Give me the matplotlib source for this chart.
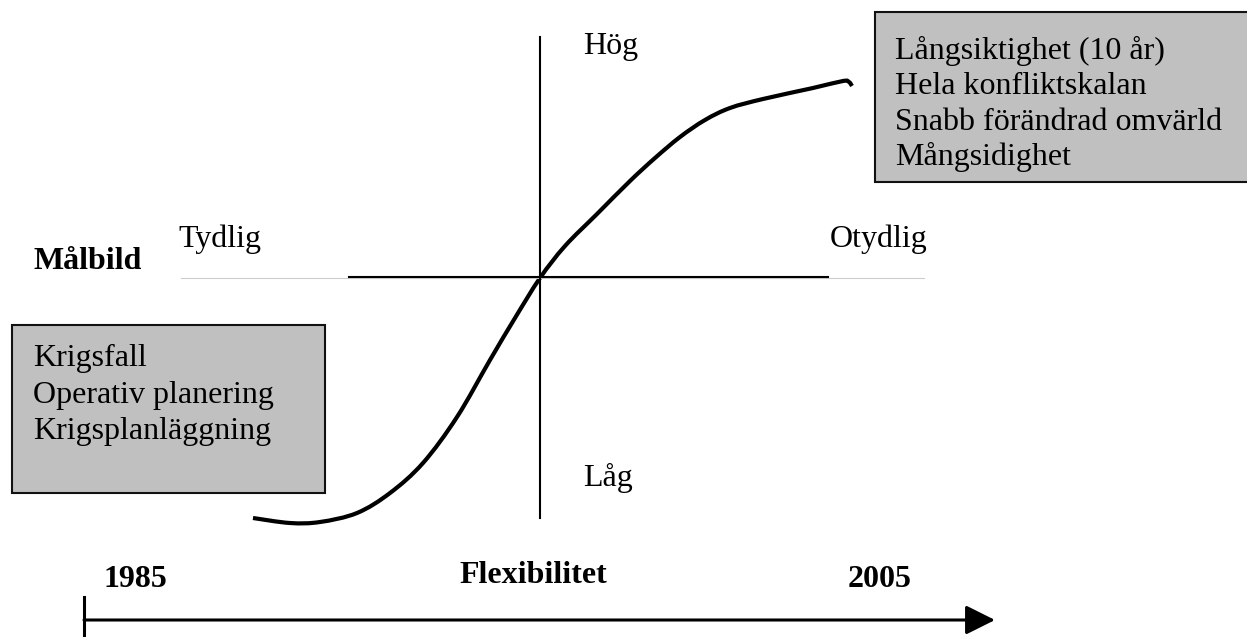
import matplotlib
matplotlib.use("Agg")
import matplotlib.pyplot as plt
from matplotlib.patches import Rectangle, PathPatch
from matplotlib.path import Path

plt.rcParams['font.family'] = ['Liberation Serif', 'DejaVu Serif']

# S-curve (pixel coords, y down)
curve_x = [253, 290, 320, 357, 390, 423, 457, 490, 515, 540, 565, 597, 630, 655,
           680, 705, 730, 763, 813, 843, 849, 852]
curve_y = [518, 523, 522, 513, 493, 463, 417, 360, 318, 278, 246, 214, 181, 158,
           137, 120, 108, 99, 88, 81, 82, 86]

left_items = ["Krigsfall", "Operativ planering", "Krigsplanläggning"]
right_items = ["Långsiktighet (10 år)", "Hela konfliktskalan",
               "Snabb förändrad omvärld", "Mångsidighet"]
axis_top, axis_bottom = "Hög", "Låg"
axis_left, axis_right = "Tydlig", "Otydlig"
row_label = "Målbild"
time_label = "Flexibilitet"
year_start, year_end = "1985", "2005"


def smooth_path(xs, ys):
    # catmull-rom through the points, drawn as cubic beziers
    pts = list(zip(xs, ys))
    verts = [pts[0]]
    codes = [Path.MOVETO]
    n = len(pts)
    for i in range(n - 1):
        p0 = pts[max(i - 1, 0)]
        p1 = pts[i]
        p2 = pts[i + 1]
        p3 = pts[min(i + 2, n - 1)]
        c1 = (p1[0] + (p2[0] - p0[0]) / 6, p1[1] + (p2[1] - p0[1]) / 6)
        c2 = (p2[0] - (p3[0] - p1[0]) / 6, p2[1] - (p3[1] - p1[1]) / 6)
        verts += [c1, c2, p2]
        codes += [Path.CURVE4] * 3
    return Path(verts, codes)


fig = plt.figure(figsize=(12.47, 6.37), dpi=100)
ax = fig.add_axes([0, 0, 1, 1])
ax.set_xlim(0, 1247)
ax.set_ylim(637, 0)
ax.axis('off')

fs = 23

# quadrant axes
ax.plot([181, 924], [278, 278], color='#cccccc', lw=0.8)
ax.plot([349, 828], [277, 277], color='black', lw=1.5)
ax.plot([540, 540], [37, 518], color='black', lw=1.5)

# curve
ax.add_patch(PathPatch(smooth_path(curve_x, curve_y), facecolor='none',
                       edgecolor='black', lw=3, capstyle='butt'))

# boxes
ax.add_patch(Rectangle((12, 325), 313, 168, facecolor='#c0c0c0', edgecolor='#111111', lw=1.5))
ax.add_patch(Rectangle((875, 12), 380, 170, facecolor='#c0c0c0', edgecolor='#111111', lw=1.5))
for i, t in enumerate(left_items):
    ax.text(33, 366 + i * 36.5, t, fontsize=fs, va='baseline', ha='left')
for i, t in enumerate(right_items):
    ax.text(895, 59 + i * 35.5, t, fontsize=fs, va='baseline', ha='left')

# labels
ax.text(583, 54, axis_top, fontsize=fs, va='baseline')
ax.text(583, 486, axis_bottom, fontsize=fs, va='baseline')
ax.text(178, 247, axis_left, fontsize=fs, va='baseline')
ax.text(830, 247, axis_right, fontsize=fs, va='baseline')
ax.text(33, 269, row_label, fontsize=fs, fontweight='bold', va='baseline')

# timeline
ax.text(533, 583, time_label, fontsize=fs, fontweight='bold', va='baseline', ha='center')
ax.text(103, 587, year_start, fontsize=fs, fontweight='bold', va='baseline')
ax.text(848, 587, year_end, fontsize=fs, fontweight='bold', va='baseline')
ax.plot([84, 84], [597, 637], color='black', lw=2.2)
ax.annotate('', xy=(995, 620), xytext=(84, 620),
            arrowprops=dict(arrowstyle='-|>,head_length=1.0,head_width=0.5',
                            mutation_scale=18, lw=2.2, color='black',
                            shrinkA=0, shrinkB=0))

fig.savefig('out.png', dpi=100)
